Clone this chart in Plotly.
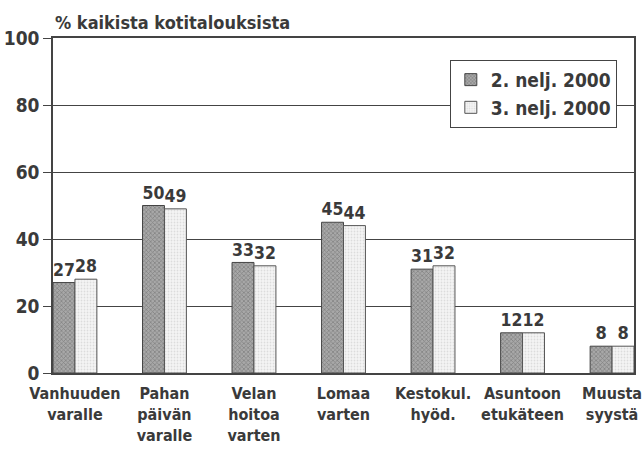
import plotly.graph_objects as go

# ── Data ────────────────────────────────────────────────────────────────────
CATEGORIES = [
    "Vanhuuden<br>varalle", "Pahan<br>päivän<br>varalle", "Velan<br>hoitoa<br>varten",
    "Lomaa<br>varten", "Kestokul.<br>hyöd.", "Asuntoon<br>etukäteen", "Muusta<br>syystä",
]
Q2_2000 = [27, 50, 33, 45, 31, 12, 8]
Q3_2000 = [28, 49, 32, 44, 32, 12, 8]
SERIES_NAMES = ["2. nelj. 2000", "3. nelj. 2000"]
Y_TICKS = [0, 20, 40, 60, 80, 100]

FONT = "DejaVu Sans Condensed, Liberation Sans Narrow, sans-serif"
INK = "#3a3a3a"


def _font(size):
    return dict(size=size, family=FONT, color=INK, weight="bold")


fig = go.Figure()

fig.add_trace(go.Bar(
    x=CATEGORIES, y=Q2_2000, name=SERIES_NAMES[0],
    marker=dict(
        color="#8c8c8c",
        line=dict(color="#444", width=1),
        pattern=dict(shape="x", size=3, solidity=0.4, fgcolor="#555", bgcolor="#a8a8a8"),
    ),
    text=Q2_2000, textposition="outside", cliponaxis=False,
    textfont=_font(18),
))
fig.add_trace(go.Bar(
    x=CATEGORIES, y=Q3_2000, name=SERIES_NAMES[1],
    marker=dict(
        color="#ececec",
        line=dict(color="#555", width=1),
        pattern=dict(shape=".", size=3, solidity=0.3, fgcolor="#c4c4c4", bgcolor="#f5f5f5"),
    ),
    text=Q3_2000, textposition="outside", cliponaxis=False,
    textfont=_font(18),
))

fig.update_layout(
    width=642, height=451,
    margin=dict(l=53, r=8, t=38, b=78),
    paper_bgcolor="white", plot_bgcolor="white",
    font=_font(16),
    barmode="group", bargap=0.51, bargroupgap=0,
    showlegend=True,
    legend=dict(
        x=0.683, y=0.935, xanchor="left", yanchor="top",
        bgcolor="white", bordercolor="#444", borderwidth=1,
        font=_font(19),
        itemwidth=30, tracegroupgap=0,
    ),
    annotations=[dict(
        text="% kaikista kotitalouksista", xref="paper", yref="paper",
        x=0.0, y=1.0, xanchor="left", yanchor="bottom", yshift=3,
        showarrow=False, font=_font(18),
    )],
)

fig.update_xaxes(
    range=[-0.245, 6.245], automargin=False,
    showline=True, linecolor="#444", linewidth=1.5, mirror=True,
    ticks="outside", ticklen=5, tickcolor="rgba(0,0,0,0)",
    tickfont=_font(16),
    showgrid=False,
)
fig.update_yaxes(
    range=[0, 100], tickvals=Y_TICKS, automargin=False,
    showline=True, linecolor="#444", linewidth=1.5, mirror=True,
    ticks="outside", ticklen=8, tickcolor="#444",
    tickfont=_font(19),
    showgrid=True, gridcolor="#444", gridwidth=1.2,
    zeroline=False,
)

fig.write_html("out.html", config={"displayModeBar": False},
               post_script="document.body.style.margin='0';")
